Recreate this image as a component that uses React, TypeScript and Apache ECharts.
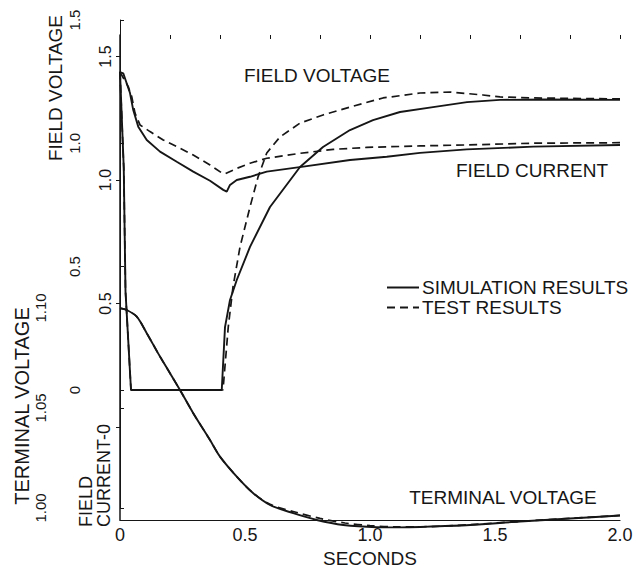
import React, { useEffect, useRef } from 'react';
import * as echarts from 'echarts';

// ---- data ----
// Field voltage (p.u.), simulation
const FV_SIM_T = [0, 0.015, 0.022, 0.044, 0.407, 0.42, 0.44, 0.467, 0.52, 0.6, 0.72, 0.812, 0.92, 1.012, 1.12, 1.252, 1.388, 1.52, 1.7, 2.0];
const FV_SIM_V = [1.29, 0.9, 0.4, 0, 0, 0.255, 0.365, 0.446, 0.58, 0.742, 0.904, 0.985, 1.054, 1.094, 1.127, 1.147, 1.167, 1.176, 1.178, 1.176];
// Field voltage, test
const FV_TEST_T = [0, 0.015, 0.022, 0.044, 0.412, 0.433, 0.452, 0.48, 0.52, 0.552, 0.587, 0.64, 0.72, 0.812, 0.92, 1.052, 1.2, 1.32, 1.452, 1.52, 1.652, 2.0];
const FV_TEST_V = [1.29, 0.9, 0.4, 0, 0, 0.255, 0.418, 0.58, 0.742, 0.863, 0.961, 1.026, 1.082, 1.115, 1.147, 1.184, 1.204, 1.208, 1.196, 1.188, 1.184, 1.18];
// Field current, simulation
const FC_SIM_T = [0, 0.013, 0.04, 0.053, 0.073, 0.107, 0.16, 0.227, 0.293, 0.36, 0.413, 0.427, 0.44, 0.467, 0.52, 0.587, 0.733, 0.92, 1.067, 1.2, 1.387, 1.653, 2.0];
const FC_SIM_V = [1.437, 1.432, 1.352, 1.283, 1.216, 1.162, 1.115, 1.074, 1.034, 0.997, 0.96, 0.953, 0.98, 1.0, 1.013, 1.034, 1.054, 1.081, 1.094, 1.11, 1.124, 1.135, 1.142];
// Field current, test
const FC_TEST_T = [0, 0.033, 0.047, 0.06, 0.08, 0.12, 0.173, 0.227, 0.293, 0.36, 0.408, 0.42, 0.467, 0.52, 0.587, 0.72, 0.853, 0.987, 1.2, 1.387, 1.653, 2.0];
const FC_TEST_V = [1.437, 1.378, 1.337, 1.271, 1.223, 1.196, 1.162, 1.135, 1.101, 1.061, 1.028, 1.025, 1.047, 1.068, 1.088, 1.108, 1.124, 1.132, 1.138, 1.142, 1.149, 1.151];
// Terminal voltage, simulation
const TV_SIM_T = [0, 0.027, 0.067, 0.107, 0.16, 0.2, 0.24, 0.293, 0.36, 0.4, 0.467, 0.533, 0.6, 0.693, 0.787, 0.893, 1.027, 1.12, 1.2, 1.4, 1.6, 1.8, 2.0];
const TV_SIM_V = [1.0999, 1.099, 1.0957, 1.0874, 1.0757, 1.0674, 1.059, 1.0474, 1.034, 1.0257, 1.0157, 1.0074, 1.0015, 0.9974, 0.994, 0.9915, 0.9904, 0.9903, 0.9905, 0.9915, 0.99325, 0.99475, 0.99625];
// Terminal voltage, test
const TV_TEST_T = [0, 0.027, 0.067, 0.107, 0.16, 0.2, 0.24, 0.293, 0.36, 0.4, 0.467, 0.533, 0.6, 0.7, 0.8, 0.9, 1.0, 1.1, 1.2, 1.4, 1.6, 1.8, 2.0];
const TV_TEST_V = [1.0999, 1.099, 1.0957, 1.0874, 1.0757, 1.0674, 1.059, 1.0474, 1.034, 1.0257, 1.0157, 1.0074, 1.0018, 0.998, 0.9948, 0.9925, 0.9912, 0.9906, 0.9906, 0.9917, 0.9933, 0.9948, 0.9963];

// axis ranges / ticks
const X_RANGE = [0, 2.0];
const X_LABEL_STEP = 0.5;
const X_TICK_STEP = 0.2;
const FC_RANGE = [0, 1.5];
const FV_RANGE = [0, 1.5];
const TV_RANGE = [1.0, 1.1];
const TV_STEP = 0.05;

const SIM = 'SIMULATION RESULTS';
const TEST = 'TEST RESULTS';

const zip = (t: number[], v: number[]) => t.map((x, i) => [x, v[i]]);

const FONT = '"Liberation Sans", Arial, Helvetica, sans-serif';
const INK = '#161616';

export default function App() {
  const ref = useRef<HTMLDivElement>(null);
  useEffect(() => {
    if (!ref.current) return;
    const chart = echarts.init(ref.current, undefined, { renderer: 'svg' });
    const hiddenX = (gridIndex: number) => ({
      gridIndex, type: 'value', min: X_RANGE[0], max: X_RANGE[1], show: false,
    });
    const solid = { color: INK, width: 1.9, type: 'solid' };
    const dashed = { color: INK, width: 1.7, type: [8, 5] };
    const mk = (name: string, data: number[][], xi: number, yi: number, ls: any, smooth: any = false) => ({
      type: 'line', name, data, xAxisIndex: xi, yAxisIndex: yi, symbol: 'none', showSymbol: false,
      lineStyle: ls, itemStyle: { color: INK }, smooth, clip: false, z: 3,
    });
    const option: any = {
      animation: false,
      backgroundColor: '#ffffff',
      textStyle: { fontFamily: FONT, color: INK },
      grid: [
        { left: 120, right: 19, top: 35, bottom: 46 },      // frame
        { left: 120, right: 19, top: 56.5, bottom: 146 },   // field current
        { left: 120, right: 19, top: 20, bottom: 183 },     // field voltage
        { left: 120, right: 19, top: 308, bottom: 65 },     // terminal voltage
      ],
      xAxis: [
        {
          gridIndex: 0, type: 'value', min: X_RANGE[0], max: X_RANGE[1], interval: X_LABEL_STEP,
          axisLine: { show: true, lineStyle: { color: INK, width: 1.2 } },
          axisTick: { show: false },
          splitLine: { show: false },
          axisLabel: {
            color: INK, fontSize: 18, fontFamily: FONT, margin: 6,
            formatter: (v: number) => (v === 0 ? '0' : v.toFixed(1)),
          },
          name: 'SECONDS', nameLocation: 'middle', nameGap: 25,
          nameTextStyle: { color: INK, fontSize: 19, fontFamily: FONT },
        },
        {
          gridIndex: 0, type: 'value', min: X_RANGE[0], max: X_RANGE[1], interval: X_TICK_STEP,
          axisLine: { show: false }, axisLabel: { show: false }, splitLine: { show: false },
          axisTick: { show: true, inside: true, length: 4, lineStyle: { color: INK, width: 1 } },
        },
        hiddenX(1), hiddenX(2), hiddenX(3),
      ],
      yAxis: [
        {
          gridIndex: 0, type: 'value', min: 0, max: 1,
          axisLine: { show: true, lineStyle: { color: INK, width: 1.5 } },
          axisTick: { show: false }, axisLabel: { show: false }, splitLine: { show: false },
        },
        {
          gridIndex: 1, type: 'value', min: FC_RANGE[0], max: FC_RANGE[1], interval: 0.5,
          axisLine: { show: false },
          axisTick: { show: true, length: 4, lineStyle: { color: INK } },
          splitLine: { show: false },
          axisLabel: {
            rotate: 90, color: INK, fontSize: 16, fontFamily: FONT, margin: 7,
            formatter: (v: number) => (v === 0 ? '' : v.toFixed(1)),
          },
        },
        {
          gridIndex: 2, type: 'value', min: FV_RANGE[0], max: FV_RANGE[1], interval: 0.5, offset: 33,
          axisLine: { show: true, lineStyle: { color: INK, width: 1 } },
          axisTick: { show: true, inside: true, length: 4, lineStyle: { color: INK } },
          splitLine: { show: false },
          axisLabel: {
            rotate: 90, color: INK, fontSize: 15, fontFamily: FONT, margin: 5,
            formatter: (v: number) => (v === 0 ? '0' : v.toFixed(1)),
          },
        },
        {
          gridIndex: 3, type: 'value', min: TV_RANGE[0], max: TV_RANGE[1], interval: TV_STEP, offset: 68,
          axisLine: { show: true, lineStyle: { color: INK, width: 1 } },
          axisTick: { show: true, inside: true, length: 4, lineStyle: { color: INK } },
          splitLine: { show: false },
          axisLabel: {
            rotate: 90, color: INK, fontSize: 15, fontFamily: FONT, margin: 4,
            formatter: (v: number) => v.toFixed(2),
          },
        },
      ],
      legend: {
        data: [SIM, TEST], orient: 'vertical', left: 386, top: 278,
        itemWidth: 32, itemHeight: 2, itemGap: 1, padding: 0,
        itemStyle: { opacity: 0, borderWidth: 0 },
        textStyle: { color: INK, fontSize: 19, fontFamily: FONT, padding: [0, 0, 0, -2] },
        inactiveColor: '#ccc',
      },
      series: [
        mk(SIM, zip(FV_SIM_T, FV_SIM_V), 3, 2, solid),
        mk(TEST, zip(FV_TEST_T, FV_TEST_V), 3, 2, dashed),
        mk(SIM, zip(FC_SIM_T, FC_SIM_V), 2, 1, solid),
        mk(TEST, zip(FC_TEST_T, FC_TEST_V), 2, 1, dashed),
        mk(SIM, zip(TV_SIM_T, TV_SIM_V), 4, 3, solid, 0.3),
        mk(TEST, zip(TV_TEST_T, TV_TEST_V), 4, 3, dashed, 0.3),
      ],
      graphic: [
        { type: 'text', x: 317, y: 75, style: { text: 'FIELD VOLTAGE', fontSize: 19, fontFamily: FONT, fill: INK, textAlign: 'center', textVerticalAlign: 'middle' } },
        { type: 'text', x: 532, y: 170, style: { text: 'FIELD CURRENT', fontSize: 19, fontFamily: FONT, fill: INK, textAlign: 'center', textVerticalAlign: 'middle' } },
        { type: 'text', x: 503, y: 497, style: { text: 'TERMINAL VOLTAGE', fontSize: 19, fontFamily: FONT, fill: INK, textAlign: 'center', textVerticalAlign: 'middle' } },
        { type: 'text', x: 55.5, y: 88, rotation: Math.PI / 2, style: { text: 'FIELD VOLTAGE', fontSize: 19, fontFamily: FONT, fill: INK, textAlign: 'center', textVerticalAlign: 'middle' } },
        { type: 'text', x: 22, y: 406, rotation: Math.PI / 2, style: { text: 'TERMINAL VOLTAGE', fontSize: 20, fontFamily: FONT, fill: INK, textAlign: 'center', textVerticalAlign: 'middle' } },
        { type: 'text', x: 86, y: 527, rotation: Math.PI / 2, style: { text: 'FIELD', fontSize: 18, fontFamily: FONT, fill: INK, textAlign: 'left', textVerticalAlign: 'middle' } },
        { type: 'text', x: 104, y: 527, rotation: Math.PI / 2, style: { text: 'CURRENT-0', fontSize: 18, fontFamily: FONT, fill: INK, textAlign: 'left', textVerticalAlign: 'middle' } },
      ],
    };
    chart.setOption(option);
    return () => chart.dispose();
  }, []);
  return (
    <div
      ref={ref}
      style={{ position: 'fixed', left: 0, top: 0, width: 639, height: 573, background: '#fff' }}
    />
  );
}
